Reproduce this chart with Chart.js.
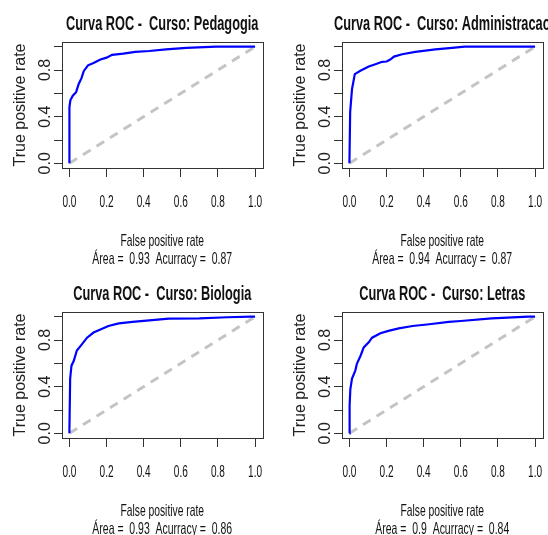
<!DOCTYPE html>
<html>
<head>
<meta charset="utf-8">
<script src="https://cdn.jsdelivr.net/npm/chart.js@4.4.1/dist/chart.umd.min.js"></script>
<style>
  html, body { margin: 0; padding: 0; background: #fff; overflow: hidden; }
  #wrap { position: relative; width: 548px; height: 535px; overflow: hidden; }
  canvas { position: absolute; }
</style>
</head>
<body>
<div id="wrap">
  <canvas id="c0" width="274" height="268" style="left:0px;top:0px"></canvas>
  <canvas id="c1" width="274" height="268" style="left:280px;top:0px"></canvas>
  <canvas id="c2" width="274" height="268" style="left:0px;top:270px"></canvas>
  <canvas id="c3" width="274" height="268" style="left:280px;top:270px"></canvas>
</div>
<script>
// --- Data ---
const courseNames = ['Pedagogia', 'Administracao', 'Biologia', 'Letras'];
const areaValues = ['0.93', '0.94', '0.93', '0.9'];
const accuracyValues = ['0.87', '0.87', '0.86', '0.84'];

const pedagogiaFpr = [0, 0, 0.005, 0.018, 0.036, 0.05, 0.065, 0.077, 0.10, 0.13, 0.167, 0.20, 0.23, 0.29, 0.355, 0.43, 0.52, 0.63, 0.79, 1.0];
const pedagogiaTpr = [0, 0.48, 0.54, 0.58, 0.61, 0.68, 0.73, 0.79, 0.84, 0.86, 0.89, 0.906, 0.93, 0.94, 0.955, 0.963, 0.977, 0.99, 1.0, 1.0];

const adminFpr = [0, 0.004, 0.014, 0.029, 0.059, 0.104, 0.14, 0.176, 0.20, 0.22, 0.24, 0.284, 0.355, 0.463, 0.553, 0.62, 1.0];
const adminTpr = [0, 0.44, 0.637, 0.765, 0.793, 0.83, 0.85, 0.87, 0.873, 0.89, 0.915, 0.935, 0.955, 0.977, 0.99, 1.0, 1.0];

const biologiaFpr = [0, 0, 0.004, 0.011, 0.023, 0.04, 0.068, 0.095, 0.13, 0.167, 0.21, 0.266, 0.34, 0.43, 0.535, 0.7, 0.85, 0.98, 1.0];
const biologiaTpr = [0, 0.04, 0.47, 0.58, 0.62, 0.71, 0.765, 0.82, 0.864, 0.89, 0.92, 0.943, 0.955, 0.969, 0.983, 0.985, 0.995, 1.0, 1.0];

const letrasFpr = [0, 0.001, 0.005, 0.014, 0.032, 0.04, 0.06, 0.077, 0.104, 0.122, 0.167, 0.21, 0.266, 0.34, 0.43, 0.535, 0.60, 0.766, 0.964, 1.0];
const letrasTpr = [0, 0.24, 0.38, 0.47, 0.54, 0.595, 0.665, 0.737, 0.78, 0.82, 0.858, 0.878, 0.9, 0.92, 0.935, 0.955, 0.963, 0.985, 1.0, 1.0];

const fprSeries = [pedagogiaFpr, adminFpr, biologiaFpr, letrasFpr];
const tprSeries = [pedagogiaTpr, adminTpr, biologiaTpr, letrasTpr];

const axisTicks = [0, 0.2, 0.4, 0.6, 0.8, 1.0];
const yLabelTicks = [0, 0.4, 0.8];
const diagonalX = [0, 1];
const diagonalY = [0, 1];

// --- Helpers ---
const FONT = '"Liberation Sans", Arial, sans-serif';

function narrowText(ctx, text, x, y, font, sx) {
    ctx.save();
    ctx.font = font;
    ctx.textAlign = 'center';
    ctx.textBaseline = 'alphabetic';
    ctx.translate(x, y);
    ctx.scale(sx, 1);
    ctx.fillText(text, 0, 0);
    ctx.restore();
}

function rotatedText(ctx, text, x, y, font) {
    ctx.save();
    ctx.font = font;
    ctx.textAlign = 'center';
    ctx.textBaseline = 'alphabetic';
    ctx.translate(x, y);
    ctx.rotate(-Math.PI / 2);
    ctx.fillText(text, 0, 0);
    ctx.restore();
}

// R style box, titles and labels
const rStylePlugin = {
    id: 'rStyle',
    afterDraw: (chart, args, opts) => {
        const { ctx, chartArea: { left, right, top, bottom }, scales: { x, y } } = chart;
        ctx.save();
        ctx.strokeStyle = '#333';
        ctx.lineWidth = 1;
        ctx.strokeRect(Math.round(left) + 0.5, Math.round(top) + 0.5, Math.round(right - left), Math.round(bottom - top));

        ctx.fillStyle = '#111';
        const midX = (left + right) / 2;
        narrowText(ctx, opts.title, midX, 30, 'bold 19.5px ' + FONT, 0.655);

        axisTicks.forEach(v => {
            narrowText(ctx, v.toFixed(1), x.getPixelForValue(v), 206.5, '17px ' + FONT, 0.59);
        });
        narrowText(ctx, 'False positive rate', midX, 245.5, '16.5px ' + FONT, 0.625);
        narrowText(ctx, opts.footer, midX, 263.5, '16.5px ' + FONT, 0.635);

        ctx.fillStyle = '#222';
        yLabelTicks.forEach(v => {
            rotatedText(ctx, v.toFixed(1), 50, y.getPixelForValue(v), '16px ' + FONT);
        });
        rotatedText(ctx, 'True positive rate', 25, (top + bottom) / 2, '16px ' + FONT);
        ctx.restore();
    }
};

function makeChart(i) {
    const curve = fprSeries[i].map((v, k) => ({ x: v, y: tprSeries[i][k] }));
    const diag = diagonalX.map((v, k) => ({ x: v, y: diagonalY[k] }));
    const tickGrid = (len) => ({ drawOnChartArea: false, drawTicks: true, tickLength: len, color: '#333', lineWidth: 1 });

    new Chart(document.getElementById('c' + i), {
        type: 'scatter',
        data: {
            datasets: [
                { data: curve, showLine: true, borderColor: '#0000ff', borderWidth: 2.2, pointRadius: 0, tension: 0 },
                { data: diag, showLine: true, borderColor: '#c4c4c4', borderWidth: 3, borderDash: [9, 7], pointRadius: 0 }
            ]
        },
        options: {
            responsive: false,
            animation: false,
            layout: { padding: { top: 42, right: 11.5, bottom: 0, left: 0 } },
            plugins: {
                legend: { display: false },
                tooltip: { enabled: false },
                rStyle: {
                    title: 'Curva ROC -  Curso: ' + courseNames[i],
                    footer: '\u00c1rea =  ' + areaValues[i] + '  Acurracy =  ' + accuracyValues[i]
                }
            },
            scales: {
                x: {
                    type: 'linear', min: -0.04, max: 1.04,
                    afterBuildTicks: s => { s.ticks = axisTicks.map(v => ({ value: v })); },
                    afterFit: s => { s.height = 100; },
                    ticks: { display: false },
                    grid: tickGrid(9),
                    border: { display: false }
                },
                y: {
                    type: 'linear', min: -0.04, max: 1.04,
                    afterBuildTicks: s => { s.ticks = axisTicks.map(v => ({ value: v })); },
                    afterFit: s => { s.width = 62; },
                    ticks: { display: false },
                    grid: tickGrid(8),
                    border: { display: false }
                }
            }
        },
        plugins: [rStylePlugin]
    });
}

[0, 1, 2, 3].forEach(makeChart);
</script>
</body>
</html>
